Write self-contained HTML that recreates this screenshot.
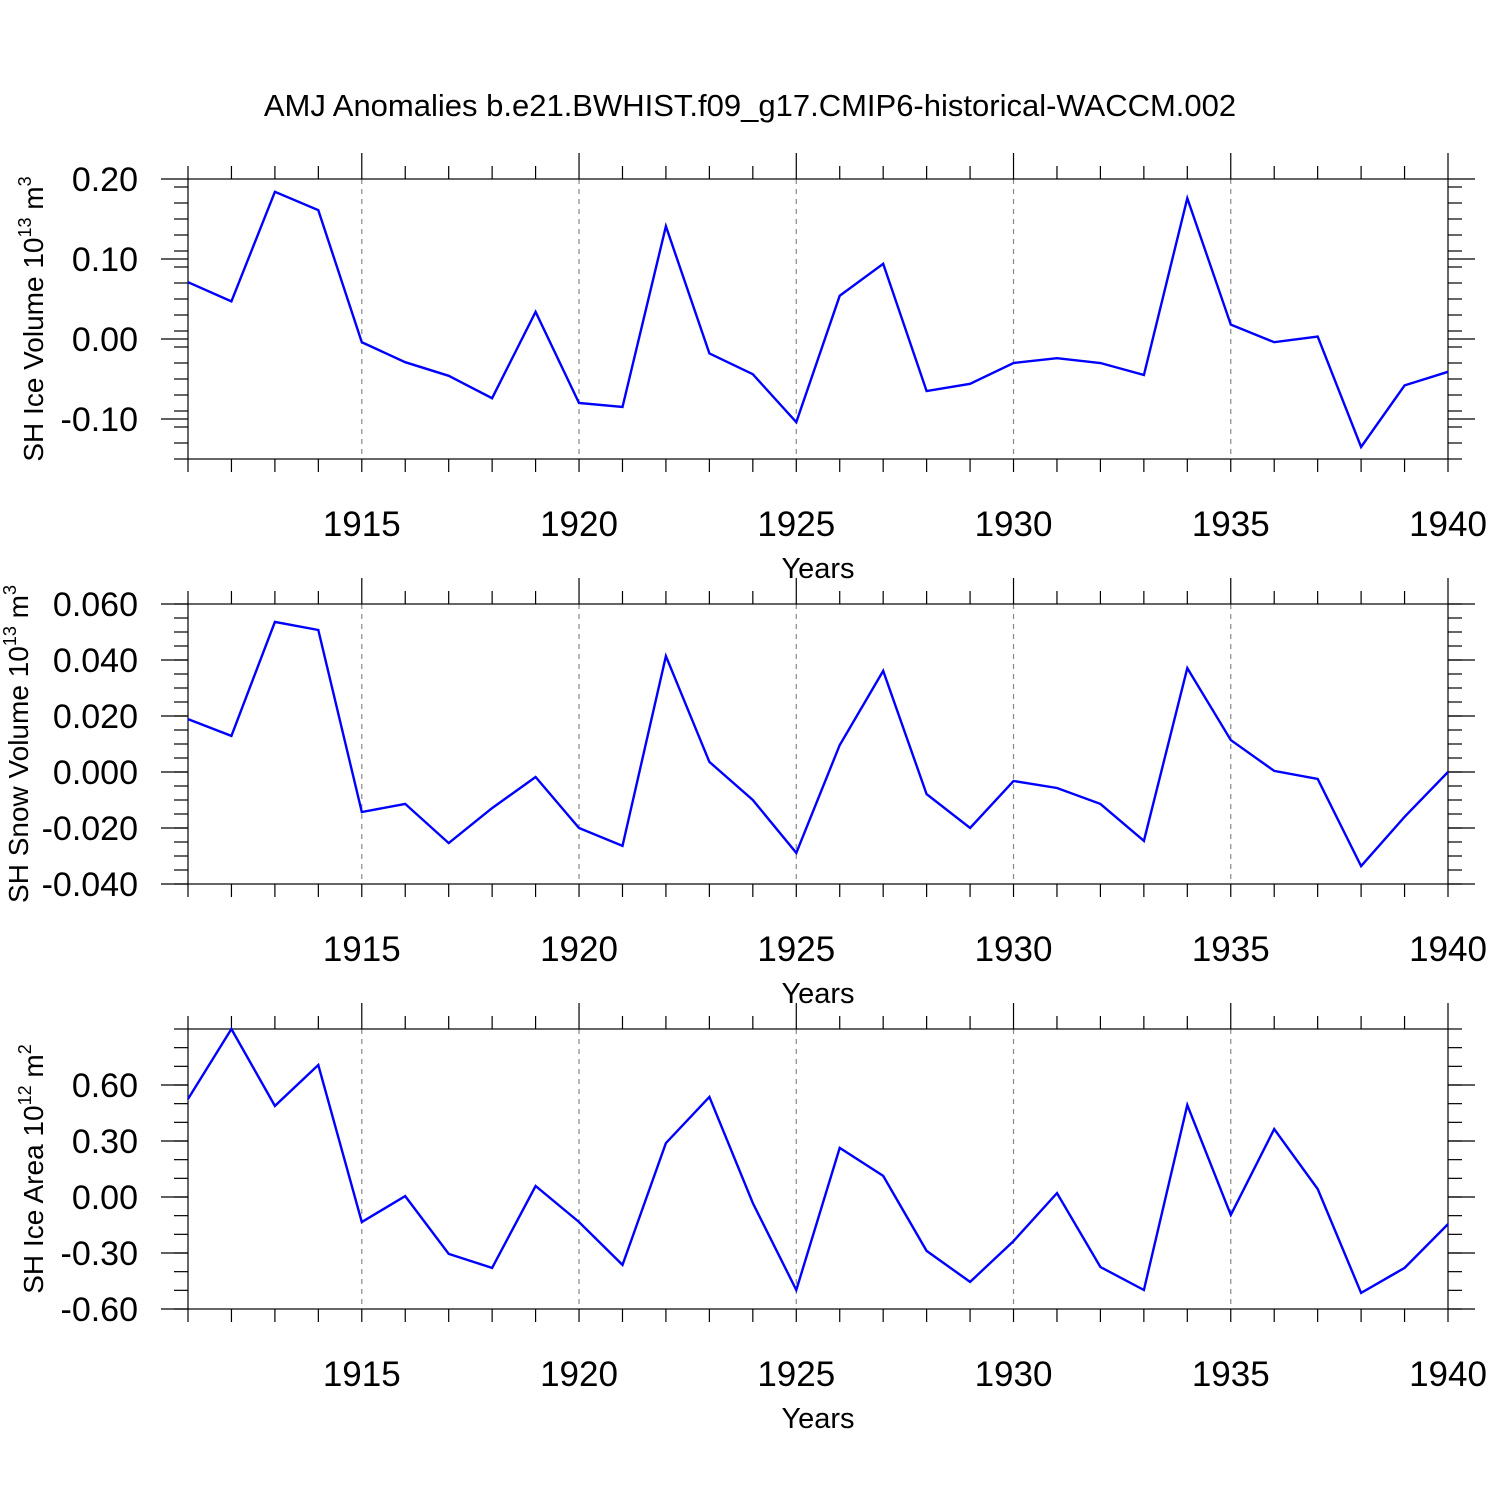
<!DOCTYPE html>
<html><head><meta charset="utf-8"><style>
body{margin:0;background:#fff}
svg{display:block}
text{font-family:"Liberation Sans",sans-serif;fill:#000}
</style></head><body>
<svg id="chart" width="1500" height="1500" xmlns="http://www.w3.org/2000/svg">
<text x="750" y="116" font-size="31" text-anchor="middle">AMJ Anomalies b.e21.BWHIST.f09_g17.CMIP6-historical-WACCM.002</text>
</svg>
<script>
const years = [1911,1912,1913,1914,1915,1916,1917,1918,1919,1920,1921,1922,1923,1924,1925,1926,1927,1928,1929,1930,1931,1932,1933,1934,1935,1936,1937,1938,1939,1940];
const iceVolume = [0.071,0.047,0.184,0.161,-0.004,-0.029,-0.046,-0.074,0.034,-0.080,-0.085,0.141,-0.018,-0.044,-0.104,0.054,0.094,-0.065,-0.056,-0.030,-0.024,-0.030,-0.045,0.176,0.018,-0.004,0.003,-0.135,-0.058,-0.041];
const snowVolume = [0.0189,0.0129,0.0536,0.0507,-0.0143,-0.0114,-0.0254,-0.0129,-0.0018,-0.020,-0.0264,0.0414,0.0036,-0.010,-0.0289,0.0096,0.0361,-0.0079,-0.020,-0.0032,-0.0057,-0.0114,-0.0246,0.0371,0.0114,0.0004,-0.0025,-0.0336,-0.016,0];
const iceArea = [0.525,0.90,0.488,0.707,-0.134,0.005,-0.305,-0.380,0.059,-0.134,-0.364,0.289,0.536,-0.032,-0.498,0.263,0.113,-0.289,-0.455,-0.236,0.021,-0.375,-0.498,0.493,-0.096,0.364,0.043,-0.514,-0.380,-0.145];
const xTickLabels = ["1915","1920","1925","1930","1935","1940"];
const iceVolTicks = ["0.20","0.10","0.00","-0.10"];
const snowTicks = ["0.060","0.040","0.020","0.000","-0.020","-0.040"];
const areaTicks = ["0.60","0.30","0.00","-0.30","-0.60"];

const NS="http://www.w3.org/2000/svg";
const svg=document.getElementById('chart');
function mk(tag,attrs,parent){const e=document.createElementNS(NS,tag);for(const k in attrs)e.setAttribute(k,attrs[k]);(parent||svg).appendChild(e);return e;}
const X0=188,X1=1448;
const xs=y=>X0+(y-1911)*(X1-X0)/29;

const panels=[
 {name:'ice-volume',top:179,bot:459,ymin:-0.15,ymax:0.20,data:iceVolume,ticks:iceVolTicks,minor:0.02,base:'SH Ice Volume 10',sup:'13',unit:' m',usup:'3',tx:43},
 {name:'snow-volume',top:604,bot:884,ymin:-0.04,ymax:0.06,data:snowVolume,ticks:snowTicks,minor:0.005,base:'SH Snow Volume 10',sup:'13',unit:' m',usup:'3',tx:28},
 {name:'ice-area',top:1029,bot:1309,ymin:-0.6,ymax:0.9,data:iceArea,ticks:areaTicks,minor:0.1,base:'SH Ice Area 10',sup:'12',unit:' m',usup:'2',tx:43}
];
panels.forEach(p=>{
 const g=mk('g',{});
 
 
 const ys=v=>p.bot-(v-p.ymin)*(p.bot-p.top)/(p.ymax-p.ymin);
 xTickLabels.forEach(t=>{const x=xs(+t);if(+t<1940){const l=mk('line',{x1:x,x2:x,y1:p.top,y2:p.bot,stroke:'#888','stroke-width':1.2,'stroke-dasharray':'5,5'},g);
  }});
 const r=mk('rect',{x:X0,y:p.top,width:X1-X0,height:p.bot-p.top,fill:'none',stroke:'#000','stroke-width':1.2},g);
 
 years.forEach(yr=>{const x=xs(yr);const maj=(yr%5===0);
  mk('line',{x1:x,x2:x,y1:p.top,y2:p.top-(maj?26:13),stroke:'#000','stroke-width':1.2},g);
  mk('line',{x1:x,x2:x,y1:p.bot,y2:p.bot+13,stroke:'#000','stroke-width':1.2},g);});
 xTickLabels.forEach(t=>{const tx=mk('text',{x:xs(+t),y:p.bot+77,'font-size':35,'text-anchor':'middle'},g);tx.textContent=t;
  });
 const xt=mk('text',{x:818,y:p.bot+119,'font-size':29,'text-anchor':'middle'},g);xt.textContent='Years';
 
 for(let v=p.ymin;v<=p.ymax+1e-9;v+=p.minor){const y=ys(v);
  mk('line',{x1:X0,x2:X0-14,y1:y,y2:y,stroke:'#000','stroke-width':1.2},g);
  mk('line',{x1:X1,x2:X1+14,y1:y,y2:y,stroke:'#000','stroke-width':1.2},g);}
 p.ticks.forEach(t=>{const y=ys(parseFloat(t));
  mk('line',{x1:X0,x2:X0-27,y1:y,y2:y,stroke:'#000','stroke-width':1.2},g);
  mk('line',{x1:X1,x2:X1+27,y1:y,y2:y,stroke:'#000','stroke-width':1.2},g);
  const tx=mk('text',{x:138,y:y+12,'font-size':34,'text-anchor':'end'},g);tx.textContent=t;
  });
 const cy=(p.top+p.bot)/2;
 const yt=mk('text',{x:0,y:0,'font-size':28,'text-anchor':'middle',transform:`translate(${p.tx},${cy}) rotate(-90)`},g);
 
 yt.appendChild(document.createTextNode(p.base));
 const s1=mk('tspan',{dy:-12,'font-size':18},yt);s1.textContent=p.sup;
 const s2=mk('tspan',{dy:12},yt);s2.textContent=p.unit;
 const s3=mk('tspan',{dy:-12,'font-size':18},yt);s3.textContent=p.usup;
 const pts=p.data.map((v,i)=>xs(years[i]).toFixed(1)+','+ys(v).toFixed(1)).join(' ');
 const pl=mk('polyline',{points:pts,fill:'none',stroke:'#0000ff','stroke-width':2.4,'stroke-linejoin':'miter'},g);
 
});
</script>
</body></html>
